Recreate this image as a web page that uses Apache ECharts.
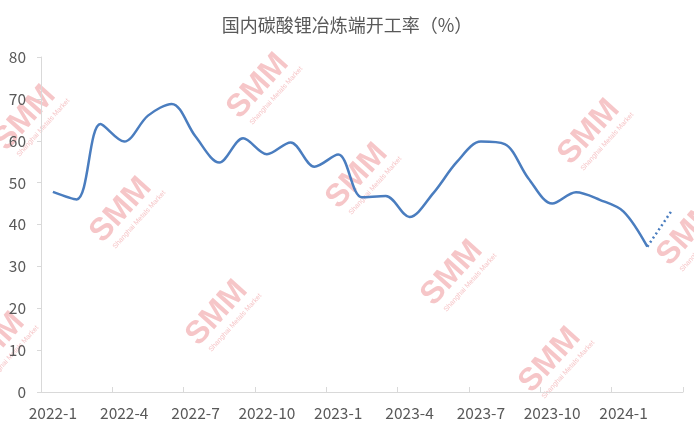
<!DOCTYPE html>
<html>
<head>
<meta charset="utf-8">
<script src="https://cdn.jsdelivr.net/npm/echarts@6/dist/echarts.min.js"></script>
<style>html,body{margin:0;padding:0;background:#fff}#c{width:694px;height:430px}</style>
</head>
<body>
<div id="c"></div>
<script>
var months = ['2022-1','2022-2','2022-3','2022-4','2022-5','2022-6','2022-7','2022-8','2022-9','2022-10','2022-11','2022-12',
  '2023-1','2023-2','2023-3','2023-4','2023-5','2023-6','2023-7','2023-8','2023-9','2023-10','2023-11','2023-12',
  '2024-1','2024-2','2024-3'];
// operating rate (%) actual values
var actualRate = [47.8, 46.0, 64.0, 59.8, 66.0, 68.8, 61.0, 54.8, 60.6, 56.8, 59.6, 53.8,
  56.7, 46.5, 46.8, 41.8, 47.5, 55.0, 59.8, 59.2, 51.0, 45.0, 47.7, 45.9,
  43.1, 34.7];
// forecast value for the last month
var forecastRate = [43.1];
var yTicks = [0, 10, 20, 30, 40, 50, 60, 70, 80];
var titleText = '国内碳酸锂冶炼端开工率（%）';
var watermarkMain = 'SMM';
var watermarkSub = 'Shanghai Metals Market';

var solidData = actualRate.concat(forecastRate.map(function(){ return '-'; }));
var dottedData = months.map(function(m, i){
  if (i === actualRate.length - 1) return actualRate[i];
  if (i >= actualRate.length) return forecastRate[i - actualRate.length];
  return '-';
});

var wmPos = [[25,118],[258,86],[121,210],[589,132],[357,176],[688,233],[452,273],[217,313],[-6,345],[550,360]];
var graphics = wmPos.map(function(p){
  return {
    type: 'group', x: p[0], y: p[1], rotation: 48 * Math.PI / 180, z: -10, silent: true,
    children: [
      {type: 'text', x: 0, y: 0, style: {text: watermarkMain, fill: '#f6c6c8', font: 'bold 32px "Liberation Sans Narrow", "Liberation Sans", Arial', align: 'center', verticalAlign: 'middle'}},
      {type: 'text', x: 5, y: 20, style: {text: watermarkSub, fill: '#f6c6c8', font: '7px "Liberation Sans", Arial', align: 'center', verticalAlign: 'middle'}}
    ]
  };
});

var chart = echarts.init(document.getElementById('c'));
chart.setOption({
  animation: false,
  backgroundColor: '#fff',
  title: {
    text: titleText, left: 'center', top: 11,
    textStyle: {fontSize: 18, fontWeight: 'normal', color: '#595959', fontFamily: '"Noto Sans CJK SC", sans-serif'}
  },
  graphic: graphics,
  grid: {left: 41, right: 11, top: 57, bottom: 38, containLabel: false},
  xAxis: {
    type: 'category', data: months, boundaryGap: true,
    axisLine: {lineStyle: {color: '#d9d9d9', width: 1}},
    axisTick: {show: true, inside: true, length: 5, interval: 2, lineStyle: {color: '#d9d9d9'}},
    axisLabel: {interval: 2, color: '#595959', fontSize: 15.5, margin: 13, fontFamily: '"Noto Sans CJK SC", sans-serif'},
    splitLine: {show: false}
  },
  yAxis: {
    type: 'value', min: yTicks[0], max: yTicks[yTicks.length - 1], interval: yTicks[1] - yTicks[0],
    axisLine: {show: true, lineStyle: {color: '#d9d9d9', width: 1}},
    axisTick: {show: true, length: 4, lineStyle: {color: '#d9d9d9'}},
    axisLabel: {color: '#595959', fontSize: 15.5, margin: 15, fontFamily: '"Noto Sans CJK SC", sans-serif'},
    splitLine: {show: false}
  },
  series: [
    {type: 'line', data: solidData, smooth: 0.33, showSymbol: false, z: 5,
     lineStyle: {color: '#4a7dbf', width: 2.5}},
    {type: 'line', data: dottedData, smooth: false, showSymbol: false, z: 5,
     lineStyle: {color: '#4a7dbf', width: 2.5, type: [2, 3]}}
  ]
});
</script>
</body>
</html>
